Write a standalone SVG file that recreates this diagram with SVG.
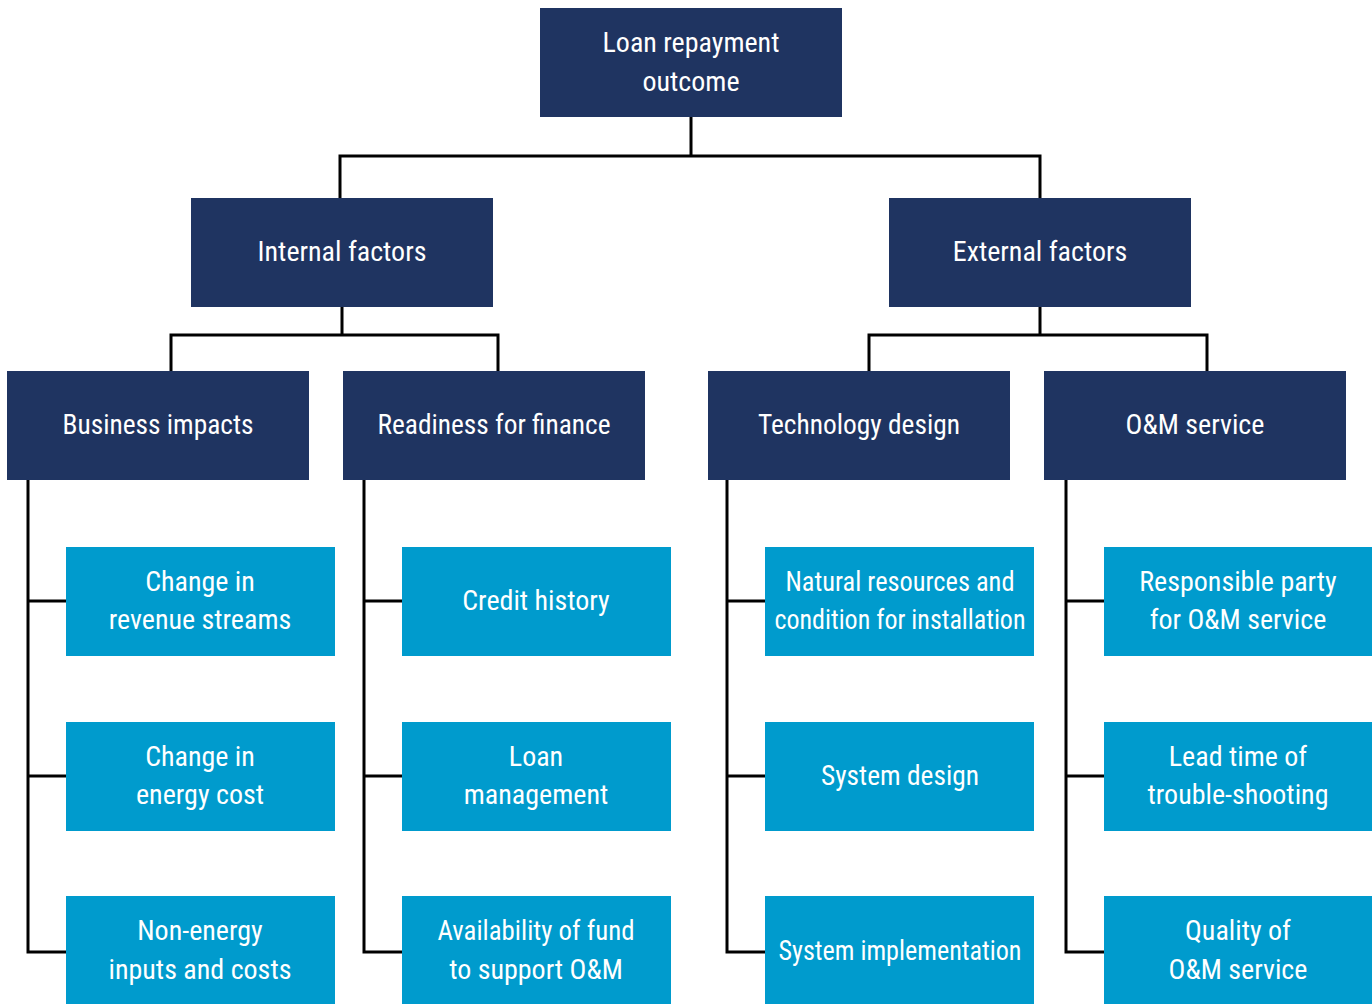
<svg xmlns="http://www.w3.org/2000/svg" width="1372" height="1004" viewBox="0 0 1372 1004">
<style>
.dark{fill:#1f3461}
.light{fill:#009bcd}
text{font-family:"Roboto Condensed",Roboto,"Liberation Sans",sans-serif;font-stretch:condensed;font-size:28px;fill:#ffffff;text-anchor:middle}
.ln{fill:none;stroke:#000000;stroke-width:3}
</style>
<rect width="1372" height="1004" fill="#ffffff"/>
<g id="connectors">
<path class="ln" d="M691 117V156M340 198V156H1040V198"/>
<path class="ln" d="M342 307V335M171 371V335H498V371"/>
<path class="ln" d="M1040 307V335M869 371V335H1207V371"/>
<path class="ln" d="M28 480V952H66M28 601H66M28 776H66"/>
<path class="ln" d="M364 480V952H402M364 601H402M364 776H402"/>
<path class="ln" d="M727 480V952H765M727 601H765M727 776H765"/>
<path class="ln" d="M1066 480V952H1104M1066 601H1104M1066 776H1104"/>
</g>
<g id="root"><rect class="dark" x="540" y="8" width="302" height="109"/><text x="691" y="52">Loan repayment</text><text x="691" y="91">outcome</text></g>
<g id="internal"><rect class="dark" x="191" y="198" width="302" height="109"/><text x="342" y="261">Internal factors</text></g>
<g id="external"><rect class="dark" x="889" y="198" width="302" height="109"/><text x="1040" y="261">External factors</text></g>
<g id="business"><rect class="dark" x="7" y="371" width="302" height="109"/><text x="158" y="434" textLength="191" lengthAdjust="spacingAndGlyphs">Business impacts</text></g>
<g id="readiness"><rect class="dark" x="343" y="371" width="302" height="109"/><text x="494" y="434" textLength="233" lengthAdjust="spacingAndGlyphs">Readiness for finance</text></g>
<g id="technology"><rect class="dark" x="708" y="371" width="302" height="109"/><text x="859" y="434" textLength="202" lengthAdjust="spacingAndGlyphs">Technology design</text></g>
<g id="om"><rect class="dark" x="1044" y="371" width="302" height="109"/><text x="1195" y="434">O&amp;M service</text></g>
<g id="c11"><rect class="light" x="66" y="547" width="269" height="109"/><text x="200" y="591">Change in</text><text x="200" y="629">revenue streams</text></g>
<g id="c12"><rect class="light" x="66" y="722" width="269" height="109"/><text x="200" y="766">Change in</text><text x="200" y="804">energy cost</text></g>
<g id="c13"><rect class="light" x="66" y="896" width="269" height="108"/><text x="200" y="940">Non-energy</text><text x="200" y="979">inputs and costs</text></g>
<g id="c21"><rect class="light" x="402" y="547" width="269" height="109"/><text x="536" y="610">Credit history</text></g>
<g id="c22"><rect class="light" x="402" y="722" width="269" height="109"/><text x="536" y="766">Loan</text><text x="536" y="804">management</text></g>
<g id="c23"><rect class="light" x="402" y="896" width="269" height="108"/><text x="536" y="940" textLength="197" lengthAdjust="spacingAndGlyphs">Availability of fund</text><text x="536" y="979">to support O&amp;M</text></g>
<g id="c31"><rect class="light" x="765" y="547" width="269" height="109"/><text x="900" y="591" textLength="229" lengthAdjust="spacingAndGlyphs">Natural resources and</text><text x="900" y="629" textLength="251" lengthAdjust="spacingAndGlyphs">condition for installation</text></g>
<g id="c32"><rect class="light" x="765" y="722" width="269" height="109"/><text x="900" y="785" textLength="158" lengthAdjust="spacingAndGlyphs">System design</text></g>
<g id="c33"><rect class="light" x="765" y="896" width="269" height="108"/><text x="900" y="960" textLength="243" lengthAdjust="spacingAndGlyphs">System implementation</text></g>
<g id="c41"><rect class="light" x="1104" y="547" width="268" height="109"/><text x="1238" y="591">Responsible party</text><text x="1238" y="629">for O&amp;M service</text></g>
<g id="c42"><rect class="light" x="1104" y="722" width="268" height="109"/><text x="1238" y="766">Lead time of</text><text x="1238" y="804">trouble-shooting</text></g>
<g id="c43"><rect class="light" x="1104" y="896" width="268" height="108"/><text x="1238" y="940">Quality of</text><text x="1238" y="979">O&amp;M service</text></g>
</svg>
